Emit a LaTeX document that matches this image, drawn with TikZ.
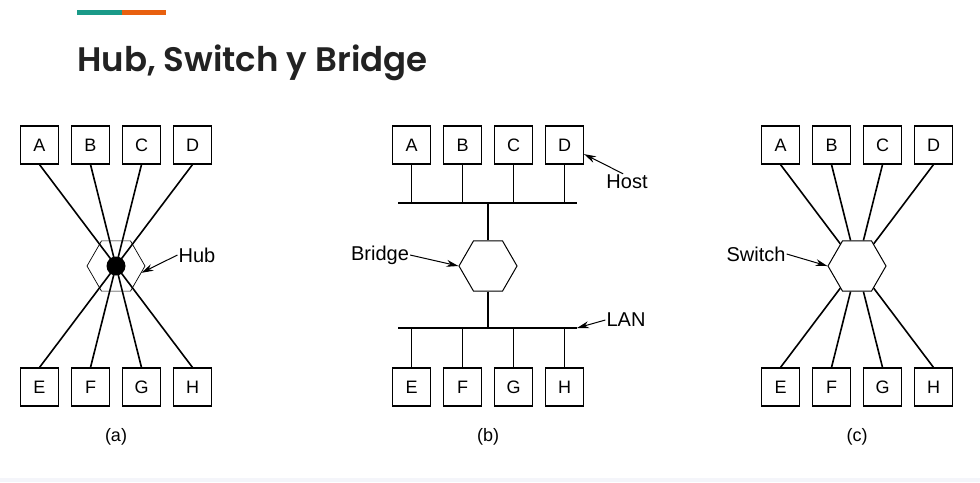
\documentclass[tikz,border=0pt]{standalone}
\usepackage{fontspec}
\setmainfont{Liberation Sans}
\newfontfamily\titlefont{Poppins}[UprightFont={* SemiBold}]
\usetikzlibrary{shapes.geometric,arrows.meta}

\definecolor{barteal}{HTML}{1A9A88}
\definecolor{barorange}{HTML}{E8600F}
\definecolor{titlegray}{HTML}{222222}
\definecolor{bandgray}{HTML}{F4F5FA}

\tikzset{
  host/.style={draw, line width=1.1pt, minimum width=38pt, minimum height=38pt,
    inner sep=0pt, font=\fontsize{18}{18}\selectfont},
  hexa/.style={draw, regular polygon, regular polygon sides=6, minimum size=58pt, inner sep=0pt},
  wire/.style={line width=1.6pt},
  tag/.style={inner sep=1pt, font=\fontsize{20}{20}\selectfont},
  pointer/.style={line width=1pt, -{Stealth[length=12pt,width=7pt]}},
  caption/.style={font=\fontsize{18}{18}\selectfont}
}

\begin{document}
\begin{tikzpicture}[x=1pt,y=-1pt]
    \useasboundingbox (0,0) rectangle (980,482);
    \fill[bandgray] (0,478) rectangle (980,482);

    % title
    \fill[barteal] (77,10) rectangle (122,15);
    \fill[barorange] (122,10) rectangle (166,15);
    \node[anchor=base west, inner sep=0pt, text=titlegray,
      font=\titlefont\fontsize{34}{40}\selectfont] (title) at (77,71) {Hub, Switch y Bridge};

    % hosts, top row and bottom row of each panel
    \foreach \p/\cx in {a/116,b/488,c/857}{
      \foreach \t/\s/\dx in {A/E/-76.5,B/F/-25.5,C/G/25.5,D/H/76.5}{
        \node[host] (\p\t) at ({\cx+\dx},145) {\t};
        \node[host] (\p\s) at ({\cx+\dx},387) {\s};
      }
    }

    % (a) hub
    \node[hexa, line width=0.7pt] (hub) at (116,266) {};
    \foreach \n in {A,B,C,D} \draw[wire] (a\n.south) -- (hub.center);
    \foreach \n in {E,F,G,H} \draw[wire] (a\n.north) -- (hub.center);
    \node[circle, fill, minimum size=19pt, inner sep=0pt] (hubdot) at (hub.center) {};
    \node[tag] (hublbl) at (197,255) {Hub};
    \draw[pointer] (hublbl.west) -- (hub.-15);

    % (b) bridge between two LANs
    \node[hexa, line width=1pt] (bridge) at (488,266) {};
    \coordinate (lan1w) at (398,203);
    \coordinate (lan1e) at (577,203);
    \coordinate (lan2w) at (398,328);
    \coordinate (lan2e) at (577,328);
    \draw[wire] (lan1w) -- (lan1e);
    \draw[wire] (lan2w) -- (lan2e);
    \foreach \n in {A,B,C,D} \draw[wire] (b\n.south) -- (b\n.south |- lan1w);
    \foreach \n in {E,F,G,H} \draw[wire] (b\n.north) -- (b\n.north |- lan2w);
    \draw[wire] (bridge.north) -- (bridge.north |- lan1w);
    \draw[wire] (bridge.south) -- (bridge.south |- lan2w);
    \node[tag] (hostlbl) at (627,182) {Host};
    \draw[pointer] (hostlbl.115) -- (bD.-25);
    \node[tag] (bridgelbl) at (380,255) {Bridge};
    \draw[pointer] (bridgelbl.east) -- (bridge.west);
    \node[tag] (lanlbl) at (626,320) {LAN};
    \draw[pointer] (lanlbl.west) -- (lan2e);

    % (c) switch
    \node[hexa, line width=1pt] (switch) at (857,266) {};
    \foreach \n in {A,B,C,D} \draw[wire] (c\n.south) -- (switch);
    \foreach \n in {E,F,G,H} \draw[wire] (c\n.north) -- (switch);
    \node[tag] (switchlbl) at (756,254) {Switch};
    \draw[pointer] (switchlbl.east) -- (switch.west);

    % captions
    \node[caption] (capa) at (116,437) {(a)};
    \node[caption] (capb) at (488,437) {(b)};
    \node[caption] (capc) at (857,437) {(c)};
\end{tikzpicture}
\end{document}
